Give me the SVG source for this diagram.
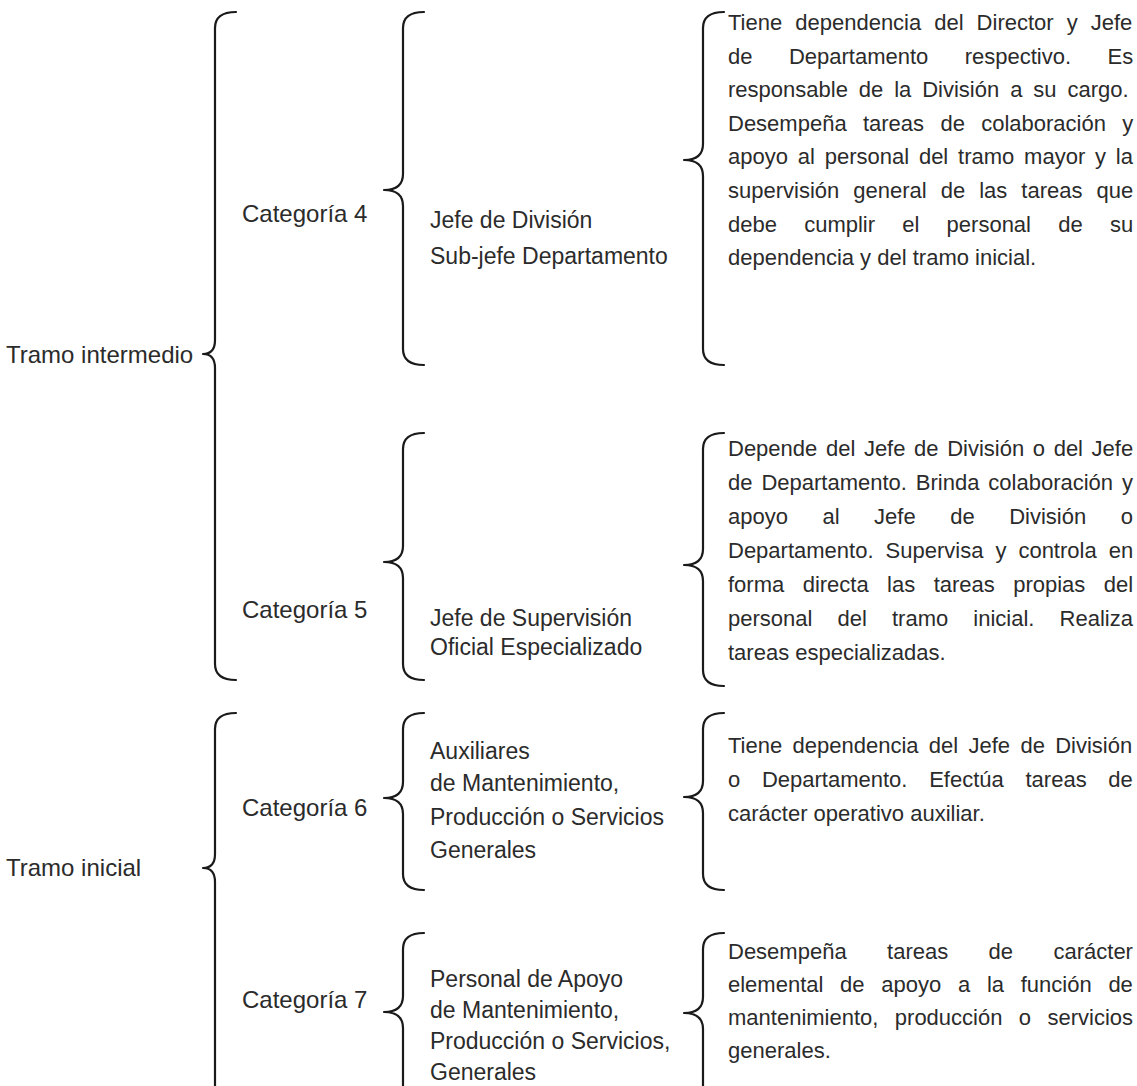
<svg xmlns="http://www.w3.org/2000/svg" width="1137" height="1086" viewBox="0 0 1137 1086">
<style>
  text { font-family: "Liberation Sans", Arial, sans-serif; font-size: 22px; fill: #2b2b2b; }
  .lbl { font-size: 24px; }
  .job { font-size: 23px; }
  .brace { fill: none; stroke: #1a1a1a; stroke-width: 2.2; stroke-linecap: round; stroke-linejoin: round; }
</style>
<rect width="1137" height="1086" fill="#ffffff"/>
<g id="connectors">
  <path class="brace" d="M236 12 Q215 12 215 28 L215 340 Q215 354 203 354 Q215 354 215 368 L215 664 Q215 680 236 680"/>
  <path class="brace" d="M236 713 Q215 713 215 729 L215 854 Q215 868 203 868 Q215 868 215 882 L215 1092"/>
  <path class="brace" d="M424 12 Q403 12 403 28 L403 174 Q403 190 384 190 Q403 190 403 206 L403 349 Q403 365 424 365"/>
  <path class="brace" d="M424 433 Q403 433 403 449 L403 546 Q403 562 384 562 Q403 562 403 578 L403 664 Q403 680 424 680"/>
  <path class="brace" d="M424 713 Q403 713 403 729 L403 782 Q403 798 384 798 Q403 798 403 814 L403 874 Q403 890 424 890"/>
  <path class="brace" d="M424 933 Q403 933 403 949 L403 996 Q403 1012 384 1012 Q403 1012 403 1028 L403 1092"/>
  <path class="brace" d="M724 12 Q703 12 703 28 L703 144 Q703 160 684 160 Q703 160 703 176 L703 349 Q703 365 724 365"/>
  <path class="brace" d="M724 433 Q703 433 703 449 L703 549 Q703 565 684 565 Q703 565 703 581 L703 670 Q703 686 724 686"/>
  <path class="brace" d="M724 713 Q703 713 703 729 L703 781 Q703 797 684 797 Q703 797 703 813 L703 874 Q703 890 724 890"/>
  <path class="brace" d="M724 933 Q703 933 703 949 L703 997 Q703 1013 684 1013 Q703 1013 703 1029 L703 1092"/>
</g>
<g id="tramo-intermedio"><text class="lbl" x="6" y="363">Tramo intermedio</text></g>
<g id="tramo-inicial"><text class="lbl" x="6" y="876">Tramo inicial</text></g>
<g id="categoria-4"><text class="lbl" x="242" y="222">Categoría 4</text></g>
<g id="categoria-5"><text class="lbl" x="242" y="618">Categoría 5</text></g>
<g id="categoria-6"><text class="lbl" x="242" y="816">Categoría 6</text></g>
<g id="categoria-7"><text class="lbl" x="242" y="1008">Categoría 7</text></g>
<g id="puesto-4">
  <text class="job" x="430" y="228">Jefe de División</text>
  <text class="job" x="430" y="264">Sub-jefe Departamento</text>
</g>
<g id="puesto-5">
  <text class="job" x="430" y="626">Jefe de Supervisión</text>
  <text class="job" x="430" y="655">Oficial Especializado</text>
</g>
<g id="puesto-6">
  <text class="job" x="430" y="759">Auxiliares</text>
  <text class="job" x="430" y="791">de Mantenimiento,</text>
  <text class="job" x="430" y="825">Producción o Servicios</text>
  <text class="job" x="430" y="858">Generales</text>
</g>
<g id="puesto-7">
  <text class="job" x="430" y="987">Personal de Apoyo</text>
  <text class="job" x="430" y="1018">de Mantenimiento,</text>
  <text class="job" x="430" y="1049">Producción o Servicios,</text>
  <text class="job" x="430" y="1080">Generales</text>
</g>
<g id="descripcion-4">
  <text x="728" y="30" word-spacing="6.9">Tiene dependencia del Director y Jefe</text>
  <text x="728" y="64" word-spacing="30.3">de Departamento respectivo. Es</text>
  <text x="728" y="97" word-spacing="4.8">responsable de la División a su cargo.</text>
  <text x="728" y="131" word-spacing="10.2">Desempeña tareas de colaboración y</text>
  <text x="728" y="164" word-spacing="3.7">apoyo al personal del tramo mayor y la</text>
  <text x="728" y="198" word-spacing="7.9">supervisión general de las tareas que</text>
  <text x="728" y="232" word-spacing="21.1">debe cumplir el personal de su</text>
  <text x="728" y="265">dependencia y del tramo inicial.</text>
</g>
<g id="descripcion-5">
  <text x="728" y="456" word-spacing="2.5">Depende del Jefe de División o del Jefe</text>
  <text x="728" y="490" word-spacing="2.8">de Departamento. Brinda colaboración y</text>
  <text x="728" y="524" word-spacing="28.4">apoyo al Jefe de División o</text>
  <text x="728" y="558" word-spacing="5.9">Departamento. Supervisa y controla en</text>
  <text x="728" y="592" word-spacing="12.3">forma directa las tareas propias del</text>
  <text x="728" y="626" word-spacing="19">personal del tramo inicial. Realiza</text>
  <text x="728" y="660">tareas especializadas.</text>
</g>
<g id="descripcion-6">
  <text x="728" y="753" word-spacing="4.2">Tiene dependencia del Jefe de División</text>
  <text x="728" y="787" word-spacing="15.6">o Departamento. Efectúa tareas de</text>
  <text x="728" y="821">carácter operativo auxiliar.</text>
</g>
<g id="descripcion-7">
  <text x="728" y="959" word-spacing="34.3">Desempeña tareas de carácter</text>
  <text x="728" y="992" word-spacing="10.6">elemental de apoyo a la función de</text>
  <text x="728" y="1025" word-spacing="10.3">mantenimiento, producción o servicios</text>
  <text x="728" y="1058">generales.</text>
</g>
</svg>
